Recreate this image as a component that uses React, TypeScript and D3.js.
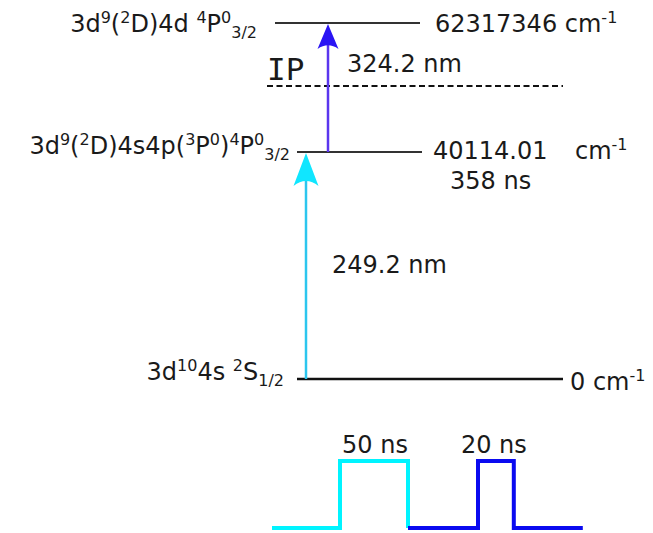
import React from "react";
import * as d3 from "d3";

// Energy levels (cm^-1) drawn on a schematic vertical axis
const levelNames = ["ground", "intermediate", "ionization", "upper"];
const levelEnergies = [0, 40114.01, 62317.46, 70959.0];
const levelPixels = [379, 152, 86, 23];

// Laser transitions
const transitionWavelengths = ["249.2 nm", "324.2 nm"];
const transitionFrom = ["ground", "intermediate"];
const transitionTo = ["intermediate", "upper"];

// Laser pulse durations (ns)
const pulseLabels = ["50 ns", "20 ns"];
const pulseDurations = [50, 20];

const W = 653;
const H = 533;
const FONT = "'DejaVu Sans', Verdana, sans-serif";
const TEXT = "#1a1a1a";
const FS = 24;
const SUP = 16;

const energyOf = (name: string) => levelEnergies[levelNames.indexOf(name)];

const y = d3.scaleLinear().domain(levelEnergies).range(levelPixels);

// Pulse widths on a compressed (schematic) time scale
const pulseWidth = d3.scalePow().exponent(0.7).domain([0, 50]).range([0, 68]);

type Part = { t: string; k?: "sup" | "sub" };

function Rich({ x, yy, parts, anchor = "start" }: { x: number; yy: number; parts: Part[]; anchor?: string }) {
  let state: "base" | "sup" | "sub" = "base";
  const offset = { base: 0, sup: -9.5, sub: 6 };
  return (
    <text x={x} y={yy} textAnchor={anchor} fontFamily={FONT} fontSize={FS} fill={TEXT}>
      {parts.map((p, i) => {
        const next = p.k ?? "base";
        const dy = offset[next] - offset[state];
        state = next;
        return (
          <tspan key={i} dy={dy} fontSize={next === "base" ? FS : SUP}>
            {p.t}
          </tspan>
        );
      })}
    </text>
  );
}

function arrowHead(xTip: number, yTip: number, half: number, len: number) {
  const p = d3.path();
  p.moveTo(xTip, yTip);
  p.lineTo(xTip + half, yTip + len);
  p.quadraticCurveTo(xTip, yTip + len * 0.7, xTip - half, yTip + len);
  p.closePath();
  return p.toString();
}

export default function App() {
  const yGround = y(energyOf("ground"));
  const yMid = y(energyOf("intermediate"));
  const yIP = y(energyOf("ionization"));
  const yTop = y(energyOf("upper"));

  const arrowX = [306, 328];
  const lineColors = ["#2cc6ee", "#5a36ee"];
  const headColors = ["#10e6ff", "#2a14f4"];
  const headSize = [
    [12.5, 33],
    [10.5, 25],
  ];

  // Pulse train layout
  const baseY = 528;
  const highY = 461;
  const x0 = 272;
  const lowGap = 68;
  const cyanRise = x0 + lowGap;
  const cyanFall = cyanRise + pulseWidth(pulseDurations[0]);
  const blueRise = cyanFall + 70;
  const blueFall = blueRise + pulseWidth(pulseDurations[1]);
  const blueEnd = blueFall + 69;

  const line = d3.line<[number, number]>();
  const cyanPath = line([
    [x0, baseY],
    [cyanRise, baseY],
    [cyanRise, highY],
    [cyanFall, highY],
    [cyanFall, baseY],
  ]);
  const bluePath = line([
    [cyanFall, baseY],
    [blueRise, baseY],
    [blueRise, highY],
    [blueFall, highY],
    [blueFall, baseY],
    [blueEnd, baseY],
  ]);

  return (
    <svg width={W} height={H} style={{ position: "absolute", left: 0, top: 0, background: "#fff" }}>
      {/* level lines */}
      <line x1={275} x2={420} y1={yTop} y2={yTop} stroke="#333" strokeWidth={2} />
      <line x1={297} x2={422} y1={yMid} y2={yMid} stroke="#333" strokeWidth={2} />
      <line x1={297} x2={563} y1={yGround} y2={yGround} stroke="#111" strokeWidth={2.5} />
      <line x1={267} x2={563} y1={yIP} y2={yIP} stroke="#111" strokeWidth={2} strokeDasharray="6 3.5" />

      {/* IP label */}
      <text x={267} y={yIP - 6} fontFamily="'DejaVu Sans Mono', monospace" fontSize={31} fill={TEXT}>
        IP
      </text>

      {/* transitions */}
      {transitionWavelengths.map((wl, i) => {
        const y1 = y(energyOf(transitionFrom[i]));
        const y2 = y(energyOf(transitionTo[i]));
        const [half, len] = headSize[i];
        return (
          <g key={wl}>
            <line x1={arrowX[i]} x2={arrowX[i]} y1={y1} y2={y2 + len * 0.7} stroke={lineColors[i]} strokeWidth={2.5} />
            <path d={arrowHead(arrowX[i], y2 + 1, half, len)} fill={headColors[i]} />
          </g>
        );
      })}
      <text x={332} y={273} fontFamily={FONT} fontSize={FS} fill={TEXT}>
        {transitionWavelengths[0]}
      </text>
      <text x={347} y={72} fontFamily={FONT} fontSize={FS} fill={TEXT}>
        {transitionWavelengths[1]}
      </text>

      {/* configuration labels */}
      <Rich
        x={257}
        yy={yTop + 9}
        anchor="end"
        parts={[
          { t: "3d" },
          { t: "9", k: "sup" },
          { t: "(" },
          { t: "2", k: "sup" },
          { t: "D)4d " },
          { t: "4", k: "sup" },
          { t: "P" },
          { t: "0", k: "sup" },
          { t: "3/2", k: "sub" },
        ]}
      />
      <Rich
        x={290}
        yy={yMid + 2}
        anchor="end"
        parts={[
          { t: "3d" },
          { t: "9", k: "sup" },
          { t: "(" },
          { t: "2", k: "sup" },
          { t: "D)4s4p(" },
          { t: "3", k: "sup" },
          { t: "P" },
          { t: "0", k: "sup" },
          { t: ")" },
          { t: "4", k: "sup" },
          { t: "P" },
          { t: "0", k: "sup" },
          { t: "3/2", k: "sub" },
        ]}
      />
      <Rich
        x={284}
        yy={yGround + 1}
        anchor="end"
        parts={[
          { t: "3d" },
          { t: "10", k: "sup" },
          { t: "4s " },
          { t: "2", k: "sup" },
          { t: "S" },
          { t: "1/2", k: "sub" },
        ]}
      />

      {/* energy values */}
      <Rich x={435} yy={yTop + 9} parts={[{ t: "62317346 cm" }, { t: "-1", k: "sup" }]} />
      <Rich x={433} yy={yMid + 7} parts={[{ t: "40114.01" }]} />
      <Rich x={575} yy={yMid + 7} parts={[{ t: "cm" }, { t: "-1", k: "sup" }]} />
      <text x={450} y={yMid + 37} fontFamily={FONT} fontSize={FS} fill={TEXT}>
        358 ns
      </text>
      <Rich x={570} yy={yGround + 11} parts={[{ t: "0 cm" }, { t: "-1", k: "sup" }]} />

      {/* laser pulses */}
      <path d={cyanPath ?? ""} fill="none" stroke="#00f4ff" strokeWidth={4} />
      <path d={bluePath ?? ""} fill="none" stroke="#0a0af0" strokeWidth={4} />
      <text x={(cyanRise + cyanFall) / 2 + 1} y={453} textAnchor="middle" fontFamily={FONT} fontSize={FS} fill={TEXT}>
        {pulseLabels[0]}
      </text>
      <text x={(blueRise + blueFall) / 2 - 2} y={453} textAnchor="middle" fontFamily={FONT} fontSize={FS} fill={TEXT}>
        {pulseLabels[1]}
      </text>
    </svg>
  );
}
